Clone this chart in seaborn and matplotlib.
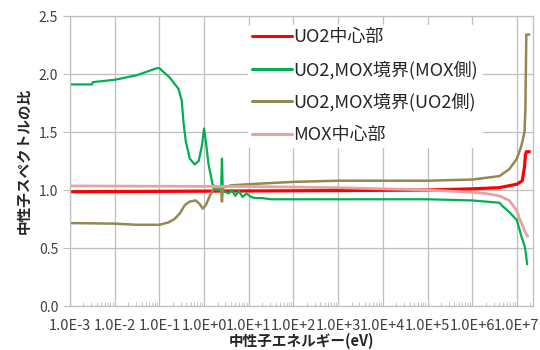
import numpy as np
import pandas as pd
import matplotlib
matplotlib.use("Agg")
import matplotlib.pyplot as plt
import matplotlib.ticker as mticker
import seaborn as sns

# energy points given as log10(E / eV)
uo2_center_logE = [-3, 0, 3, 5, 6, 6.6, 7.0, 7.12, 7.17, 7.19, 7.21, 7.28]
uo2_center_val = [0.985, 0.99, 0.995, 1.0, 1.01, 1.02, 1.05, 1.08, 1.2, 1.3, 1.33, 1.33]

mox_side_logE = [-3, -2.51, -2.49, -2, -1.5, -1.06, -1.0, -0.77, -0.57, -0.5, -0.46,
                 -0.41, -0.32, -0.21, -0.12, -0.05, 0.0, 0.04, 0.10, 0.19, 0.26,
                 0.38, 0.40, 0.42, 0.44, 0.55, 0.62, 0.70, 0.78, 0.86, 0.95, 1.05,
                 1.15, 1.3, 1.5, 2, 3, 4, 5, 6, 6.61, 6.68, 6.83, 7.0, 7.1, 7.17,
                 7.19, 7.21, 7.23]
mox_side_val = [1.91, 1.91, 1.93, 1.95, 1.99, 2.05, 2.05, 1.97, 1.87, 1.77, 1.58,
                1.42, 1.27, 1.22, 1.25, 1.38, 1.53, 1.42, 1.22, 1.05, 1.0,
                1.0, 1.27, 0.98, 0.99, 0.97, 1.0, 0.95, 0.99, 0.94, 0.97, 0.94,
                0.93, 0.93, 0.92, 0.92, 0.92, 0.92, 0.92, 0.91, 0.89, 0.86, 0.81,
                0.74, 0.6, 0.52, 0.48, 0.42, 0.36]

uo2_side_logE = [-3, -2, -1.5, -1, -0.8, -0.66, -0.54, -0.43, -0.32, -0.19, -0.1,
                 -0.03, 0.04, 0.13, 0.21, 0.3, 0.38, 0.40, 0.42, 0.6, 1, 2, 3, 4,
                 5, 6, 6.61, 6.83, 7.0, 7.1, 7.17, 7.19, 7.21, 7.23, 7.28]
uo2_side_val = [0.715, 0.71, 0.70, 0.70, 0.72, 0.75, 0.80, 0.87, 0.90, 0.91, 0.88,
                0.84, 0.87, 0.95, 1.01, 1.02, 1.02, 0.90, 1.02, 1.04, 1.05, 1.07,
                1.08, 1.08, 1.08, 1.09, 1.12, 1.18, 1.27, 1.38, 1.5, 1.7, 2.34,
                2.34, 2.34]

mox_center_logE = [-3, 1, 3, 4, 5, 6, 6.3, 6.6, 6.83, 7.0, 7.06, 7.12, 7.17, 7.21, 7.24]
mox_center_val = [1.035, 1.03, 1.02, 1.01, 1.0, 0.98, 0.97, 0.95, 0.91, 0.82, 0.75,
                  0.7, 0.65, 0.62, 0.6]

labels = ["UO2中心部", "UO2,MOX境界(MOX側)", "UO2,MOX境界(UO2側)", "MOX中心部"]
colors = ["#FF0000", "#00B050", "#938953", "#E6A3A3"]
x_tick_labels = ["1.0E-3", "1.0E-2", "1.0E-1", "1.0E+0", "1.0E+1",
                 "1.0E+2", "1.0E+3", "1.0E+4", "1.0E+5", "1.0E+6", "1.0E+7"]
y_ticks = [0.0, 0.5, 1.0, 1.5, 2.0, 2.5]

series = [
    (uo2_center_logE, uo2_center_val),
    (mox_side_logE, mox_side_val),
    (uo2_side_logE, uo2_side_val),
    (mox_center_logE, mox_center_val),
]
widths = [2.3, 1.6, 1.8, 2.0]

sns.set_style("white")
plt.rcParams["font.family"] = ["Noto Sans CJK JP", "DejaVu Sans"]

fig = plt.figure(figsize=(5.4, 3.5), dpi=100)
ax = fig.add_axes([70 / 540, 1 - 306 / 350, 463 / 540, 290 / 350])

for (logE, vals), lab, col, lw in zip(series, labels, colors, widths):
    df = pd.DataFrame({"E": 10.0 ** np.array(logE), "ratio": vals})
    sns.lineplot(data=df, x="E", y="ratio", ax=ax, color=col, linewidth=lw,
                 label=lab, sort=False, estimator=None)

ax.set_xscale("log")
ax.set_xlim(1e-3, 10 ** 7.36)
ax.set_ylim(0, 2.5)

ax.xaxis.set_major_locator(mticker.FixedLocator([10.0 ** k for k in range(-3, 8)]))
ax.set_xticklabels(x_tick_labels)
ax.xaxis.set_minor_locator(mticker.LogLocator(base=10, subs=np.arange(2, 10), numticks=30))
ax.xaxis.set_minor_formatter(mticker.NullFormatter())
ax.set_yticks(y_ticks)
ax.yaxis.set_major_formatter(mticker.FormatStrFormatter("%.1f"))

ax.grid(True, which="major", color="#BFBFBF", linewidth=0.9)
ax.tick_params(axis="x", which="major", direction="out", length=4, color="#BFBFBF",
               labelsize=10.5, labelcolor="#404040", pad=5)
ax.tick_params(axis="x", which="minor", direction="in", length=3, color="#BFBFBF",
               bottom=True)
ax.tick_params(axis="y", which="major", direction="out", length=5, color="#BFBFBF",
               labelsize=10, labelcolor="#404040", left=True)
for s in ax.spines.values():
    s.set_color("#BFBFBF")
    s.set_linewidth(0.9)

ax.set_xlabel("中性子エネルギー(eV)", fontsize=10.5, fontweight="bold", labelpad=0)
ax.set_ylabel("中性子スペクトルの比", fontsize=10.5, fontweight="bold", labelpad=5)

leg = ax.legend(loc="upper left", bbox_to_anchor=(0.385, 0.97), frameon=True,
                fontsize=13, handlelength=2.2, handletextpad=0.1,
                labelspacing=0.78, borderpad=0.2, borderaxespad=0)
leg.get_frame().set_facecolor("white")
leg.get_frame().set_edgecolor("white")
leg.get_frame().set_alpha(1)
for h in leg.get_lines():
    h.set_linewidth(2.2)

fig.savefig("out.png", dpi=100)
